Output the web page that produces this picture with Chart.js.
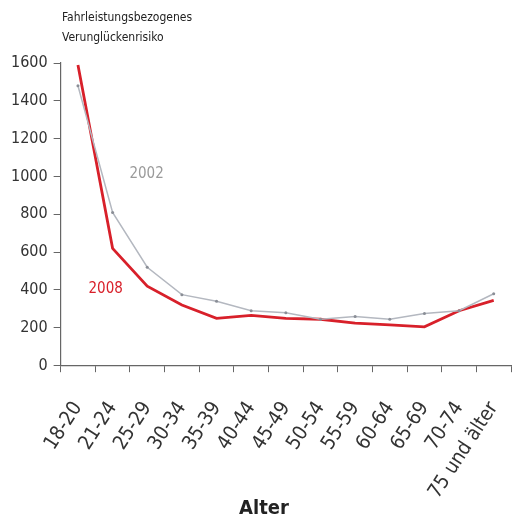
<!DOCTYPE html>
<html>
<head>
<meta charset="utf-8">
<script src="https://cdn.jsdelivr.net/npm/chart.js@4/dist/chart.umd.min.js"></script>
<style>
  html, body { margin: 0; padding: 0; background: #fff; }
  #wrap { width: 516px; height: 525px; }
</style>
</head>
<body>
<div id="wrap"><canvas id="risk-chart" width="516" height="525"></canvas></div>
<script>
const ageGroups = ['18-20', '21-24', '25-29', '30-34', '35-39', '40-44', '45-49',
                   '50-54', '55-59', '60-64', '65-69', '70-74', '75 und älter'];
const risk2002 = [1480, 810, 520, 375, 340, 290, 280, 245, 260, 245, 275, 290, 380];
const risk2008 = [1590, 620, 420, 320, 250, 265, 250, 245, 225, 215, 205, 290, 345];
const yTicks = [0, 200, 400, 600, 800, 1000, 1200, 1400, 1600];

const narrow = "'Liberation Sans Narrow', 'DejaVu Sans Condensed', 'Liberation Sans', Arial, sans-serif";

// labels "2002" / "2008", the y title and "Alter" sit on the canvas as plain text
const textPlugin = {
    id: 'texts',
    afterDraw(chart) {
        const ctx = chart.ctx;
        const x = chart.scales.x;
        const y = chart.scales.y;
        ctx.save();
        ctx.textAlign = 'center';
        ctx.textBaseline = 'middle';
        ctx.font = "15px " + narrow;
        ctx.fillStyle = '#9a9a9a';
        ctx.fillText('2002', x.getPixelForValue(1.98), y.getPixelForValue(1010));
        ctx.fillStyle = '#d8202a';
        ctx.fillText('2008', x.getPixelForValue(0.8), y.getPixelForValue(405));

        ctx.fillStyle = '#222';
        ctx.font = "bold 20px " + narrow;
        ctx.fillText('Alter', 264, 509);

        ctx.textAlign = 'left';
        ctx.fillStyle = '#222';
        ctx.font = "12px " + narrow;
        ctx.fillText('Fahrleistungsbezogenes', 62, 18);
        ctx.fillText('Verunglückenrisiko', 62, 38);
        ctx.restore();
    }
};

new Chart('risk-chart', {
    type: 'line',
    data: {
        labels: ageGroups,
        datasets: [
            {
                label: '2002',
                data: risk2002,
                borderColor: '#b4b8c0',
                backgroundColor: '#8a8e96',
                borderWidth: 1.5,
                pointRadius: 1.5,
                pointBorderWidth: 0,
                tension: 0
            },
            {
                label: '2008',
                data: risk2008,
                borderColor: '#d8202a',
                borderWidth: 2.8,
                pointRadius: 0,
                tension: 0
            }
        ]
    },
    options: {
        responsive: false,
        animation: false,
        layout: { padding: { top: 63, right: 2, left: 5, bottom: 20 } },
        plugins: {
            legend: { display: false },
            tooltip: { enabled: false }
        },
        scales: {
            x: {
                offset: true,
                // long tick gap so the labels sit lower, but only 6px of it is drawn
                grid: {
                    drawOnChartArea: false, drawTicks: true, tickLength: 30,
                    tickBorderDash: [6, 100], color: '#666', offset: true
                },
                border: { color: '#666', width: 1.2 },
                ticks: {
                    color: '#333',
                    font: { family: narrow, size: 20 },
                    minRotation: 57,
                    maxRotation: 57,
                    autoSkip: false,
                    padding: 2
                }
            },
            y: {
                min: 0,
                max: 1600,
                afterBuildTicks(axis) { axis.ticks = yTicks.map(v => ({ value: v })); },
                grid: { drawOnChartArea: false, drawTicks: true, tickLength: 7, color: '#666' },
                border: { color: '#666', width: 1.2 },
                ticks: {
                    color: '#333',
                    font: { family: narrow, size: 16 },
                    padding: 6,
                    callback: v => String(v)
                }
            }
        }
    },
    plugins: [textPlugin]
});
</script>
</body>
</html>
